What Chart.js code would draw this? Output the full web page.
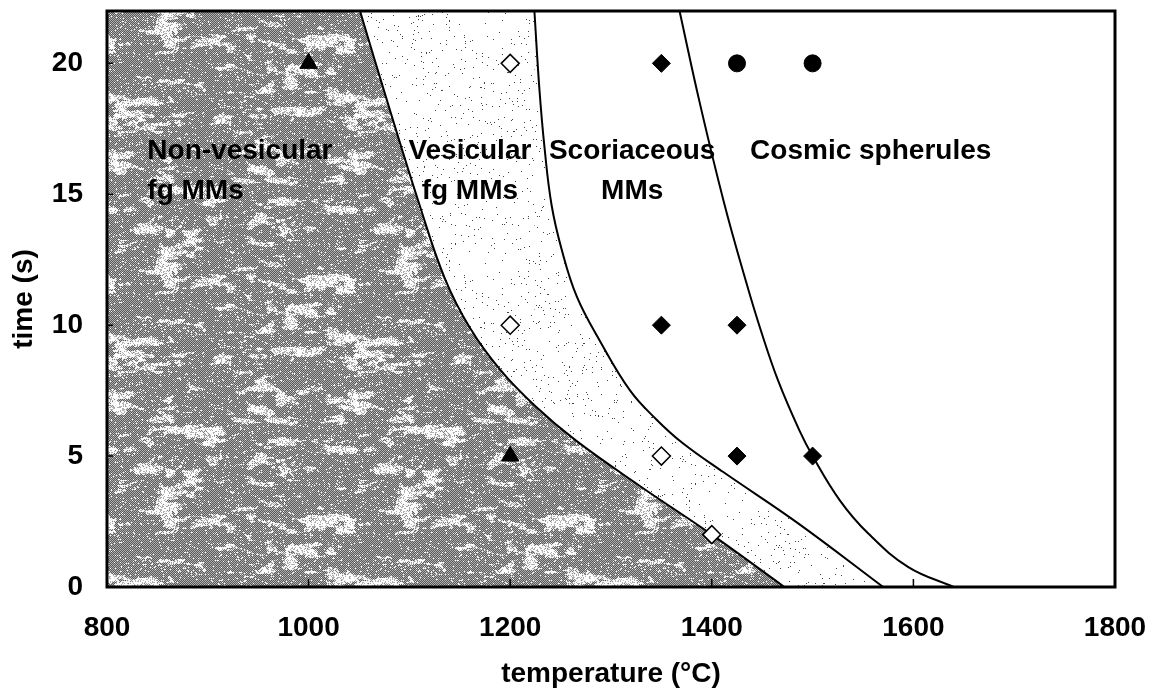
<!DOCTYPE html>
<html>
<head>
<meta charset="utf-8">
<title>Micrometeorite heating experiments</title>
<script src="https://cdn.jsdelivr.net/npm/chart.js@4.4.1/dist/chart.umd.min.js"></script>
<style>
  html, body { margin: 0; padding: 0; background: #fff; }
  #wrap { width: 1155px; height: 697px; position: relative; }
</style>
</head>
<body>
<div id="wrap"><canvas id="chart"></canvas></div>
<script>
// boundaries between the textural classes (temperature in °C, time in s)
const nonVesTemp = [1051, 1080, 1110, 1135, 1160, 1190, 1225, 1265, 1329, 1400, 1472];
const nonVesTime = [22, 18.3, 14.6, 11.8, 9.9, 8.3, 6.9, 5.6, 3.85, 2, 0];
const vesTemp = [1224, 1229, 1234, 1241, 1251, 1266, 1289, 1319, 1345, 1371, 1411, 1485, 1570];
const vesTime = [22, 19, 16.8, 14.6, 12.9, 11.1, 9.4, 7.5, 6.4, 5.5, 4.4, 2.45, 0];
const scorTemp = [1368, 1388, 1412, 1434, 1449, 1466, 1487, 1500, 1527, 1555, 1595, 1640];
const scorTime = [22, 18.5, 14.7, 11.66, 9.76, 7.86, 5.97, 5, 3.31, 2.05, 0.76, 0];

// heating experiments
const triangleTemp = [1000, 1200];
const triangleTime = [20, 5];
const openDiamondTemp = [1200, 1200, 1350, 1400];
const openDiamondTime = [20, 10, 5, 2];
const solidDiamondTemp = [1350, 1350, 1425, 1425, 1500];
const solidDiamondTime = [20, 10, 10, 5, 5];
const circleTemp = [1425, 1500];
const circleTime = [20, 20];

const xTicks = [800, 1000, 1200, 1400, 1600, 1800];
const yTicks = [0, 5, 10, 15, 20];
const regionNames = [
  ['Non-vesicular', 'fg MMs'],
  ['Vesicular', 'fg MMs'],
  ['Scoriaceous', 'MMs'],
  ['Cosmic spherules']
];

const X_MIN = 800, X_MAX = 1800, Y_MIN = 0, Y_MAX = 22;

function pts(xs, ys) {
  return xs.map((x, i) => ({ x: x, y: ys[i] }));
}

// deterministic hash for the scanned-print textures
function hash(i, j) {
  const s = Math.sin(i * 127.1 + j * 311.7) * 43758.5453;
  return s - Math.floor(s);
}
function valueNoise(x, y, cw, ch, nx, ny, seed) {
  const gx = x / cw, gy = y / ch;
  const i0 = Math.floor(gx), j0 = Math.floor(gy);
  let fx = gx - i0, fy = gy - j0;
  fx = fx * fx * (3 - 2 * fx);
  fy = fy * fy * (3 - 2 * fy);
  const c = (i, j) => hash(((i % nx) + nx) % nx + seed, ((j % ny) + ny) % ny + seed * 3);
  const a = c(i0, j0), b = c(i0 + 1, j0), d = c(i0, j0 + 1), e = c(i0 + 1, j0 + 1);
  return (a * (1 - fx) + b * fx) * (1 - fy) + (d * (1 - fx) + e * fx) * fy;
}

function makePattern(kind) {
  const size = 240;
  const c = document.createElement('canvas');
  c.width = size; c.height = size;
  const g = c.getContext('2d');
  const img = g.createImageData(size, size);
  for (let y = 0; y < size; y++) {
    for (let x = 0; x < size; x++) {
      let v;
      const odd = (x + y) & 1;
      if (kind === 'dark') {
        const n = 0.45 * valueNoise(x, y, 24, 10, 10, 24, 1)
                + 0.35 * valueNoise(x, y, 10, 4, 24, 60, 7)
                + 0.2 * valueNoise(x, y, 4, 2, 60, 120, 13);
        const h = hash(x + 0.5, y + 0.5);
        v = odd ? 90 : 175;
        if (n > 0.67) v = h > 0.3 ? 255 : 175;
        else if (n > 0.59) v = odd ? (h > 0.5 ? 255 : 130) : 235;
        else if (h > 0.94) v = 255;
      } else {
        const n = valueNoise(x, y, 20, 10, 12, 24, 5);
        v = 255;
        if (hash(x + 0.3, y + 0.7) > 0.992 - n * 0.012) v = 70;
      }
      const k = (y * size + x) * 4;
      img.data[k] = img.data[k + 1] = img.data[k + 2] = v;
      img.data[k + 3] = 255;
    }
  }
  g.putImageData(img, 0, 0);
  return g.createPattern(c, 'repeat');
}

const darkFill = makePattern('dark');
const lightFill = makePattern('light');

const bold28 = { family: "'Liberation Sans', Arial, sans-serif", size: 28, weight: 'bold' };

// region names, anchored in data units
const labelPlugin = {
  id: 'regionLabels',
  afterDatasetsDraw(chart) {
    const { ctx, scales: { x, y } } = chart;
    const anchors = [
      { t: 840, s: 16.34, align: 'left' },
      { t: 1160, s: 16.34, align: 'center' },
      { t: 1321, s: 16.34, align: 'center' },
      { t: 1438, s: 16.34, align: 'left' }
    ];
    ctx.save();
    ctx.fillStyle = '#000';
    ctx.font = "bold 28px 'Liberation Sans', Arial, sans-serif";
    ctx.textBaseline = 'alphabetic';
    regionNames.forEach((lines, i) => {
      const a = anchors[i];
      ctx.textAlign = a.align;
      lines.forEach((line, j) => {
        ctx.fillText(line, x.getPixelForValue(a.t), y.getPixelForValue(a.s) + j * 40);
      });
    });
    ctx.restore();
  }
};

// heavy frame round the plot area, with small inward tick marks
const framePlugin = {
  id: 'frame',
  afterDraw(chart) {
    const { ctx, chartArea: a, scales: { x, y } } = chart;
    ctx.save();
    ctx.strokeStyle = '#000';
    ctx.lineWidth = 1.5;
    ctx.beginPath();
    xTicks.slice(1, -1).forEach(v => {
      const px = x.getPixelForValue(v);
      ctx.moveTo(px, a.bottom);
      ctx.lineTo(px, a.bottom - 8);
    });
    yTicks.slice(1).forEach(v => {
      const py = y.getPixelForValue(v);
      ctx.moveTo(a.left, py);
      ctx.lineTo(a.left + 6, py);
    });
    ctx.stroke();
    ctx.lineWidth = 3;
    ctx.strokeRect(a.left, a.top, a.right - a.left, a.bottom - a.top);
    ctx.restore();
  }
};

const curveStyle = {
  type: 'line',
  showLine: true,
  borderColor: '#000',
  borderWidth: 2,
  pointRadius: 0,
  tension: 0.4
};

new Chart(document.getElementById('chart'), {
  type: 'scatter',
  data: {
    datasets: [
      { ...curveStyle, label: 'light corner', data: [{ x: X_MIN, y: Y_MAX }, { x: vesTemp[0], y: Y_MAX }],
        borderWidth: 0, tension: 0, fill: 'start', backgroundColor: lightFill, order: 7 },
      { ...curveStyle, label: 'vesicular limit', data: pts(vesTemp, vesTime),
        fill: 'start', backgroundColor: lightFill, order: 6 },
      { ...curveStyle, label: 'dark corner', data: [{ x: X_MIN, y: Y_MAX }, { x: nonVesTemp[0], y: Y_MAX }],
        borderWidth: 0, tension: 0, fill: 'start', backgroundColor: darkFill, order: 5 },
      { ...curveStyle, label: 'non-vesicular limit', data: pts(nonVesTemp, nonVesTime),
        fill: 'start', backgroundColor: darkFill, order: 4 },
      { ...curveStyle, label: 'scoriaceous limit', data: pts(scorTemp, scorTime),
        fill: false, order: 3 },
      { label: 'non-vesicular', data: pts(triangleTemp, triangleTime), pointStyle: 'triangle',
        pointRadius: 10, backgroundColor: '#000', borderColor: '#000', borderWidth: 1, order: 1 },
      { label: 'vesicular', data: pts(openDiamondTemp, openDiamondTime), pointStyle: 'rectRot',
        pointRadius: 9, backgroundColor: '#fff', borderColor: '#000', borderWidth: 1.5, order: 1 },
      { label: 'scoriaceous', data: pts(solidDiamondTemp, solidDiamondTime), pointStyle: 'rectRot',
        pointRadius: 9, backgroundColor: '#000', borderColor: '#000', borderWidth: 1, order: 1 },
      { label: 'cosmic spherule', data: pts(circleTemp, circleTime), pointStyle: 'circle',
        pointRadius: 8.5, backgroundColor: '#000', borderColor: '#000', borderWidth: 1, order: 1 }
    ]
  },
  options: {
    responsive: true,
    maintainAspectRatio: false,
    animation: false,
    events: [],
    layout: { padding: { top: 8, right: 40, left: 0, bottom: 0 } },
    plugins: {
      legend: { display: false },
      tooltip: { enabled: false }
    },
    scales: {
      x: {
        type: 'linear',
        min: X_MIN,
        max: X_MAX,
        afterBuildTicks: (s) => { s.ticks = xTicks.map(v => ({ value: v })); },
        afterFit: (s) => { s.height = 110; s.paddingLeft = 0; s.paddingRight = 0; },
        grid: { display: false, drawTicks: false },
        border: { display: false },
        ticks: { color: '#000', font: bold28, padding: 24, maxRotation: 0, autoSkip: false,
                 callback: (v) => String(v) },
        title: { display: true, text: 'temperature (°C)', color: '#000', font: bold28,
                 padding: { top: 0, bottom: 6 } }
      },
      y: {
        type: 'linear',
        min: Y_MIN,
        max: Y_MAX,
        afterBuildTicks: (s) => { s.ticks = yTicks.map(v => ({ value: v })); },
        afterFit: (s) => { s.width = 107; s.paddingTop = 0; s.paddingBottom = 0; },
        grid: { display: false, drawTicks: false },
        border: { display: false },
        ticks: { color: '#000', font: bold28, padding: 24, autoSkip: false,
                 callback: (v) => String(v) },
        title: { display: true, text: 'time (s)', color: '#000', font: bold28,
                 padding: { top: 7, bottom: 0 } }
      }
    }
  },
  plugins: [labelPlugin, framePlugin]
});
</script>
</body>
</html>
